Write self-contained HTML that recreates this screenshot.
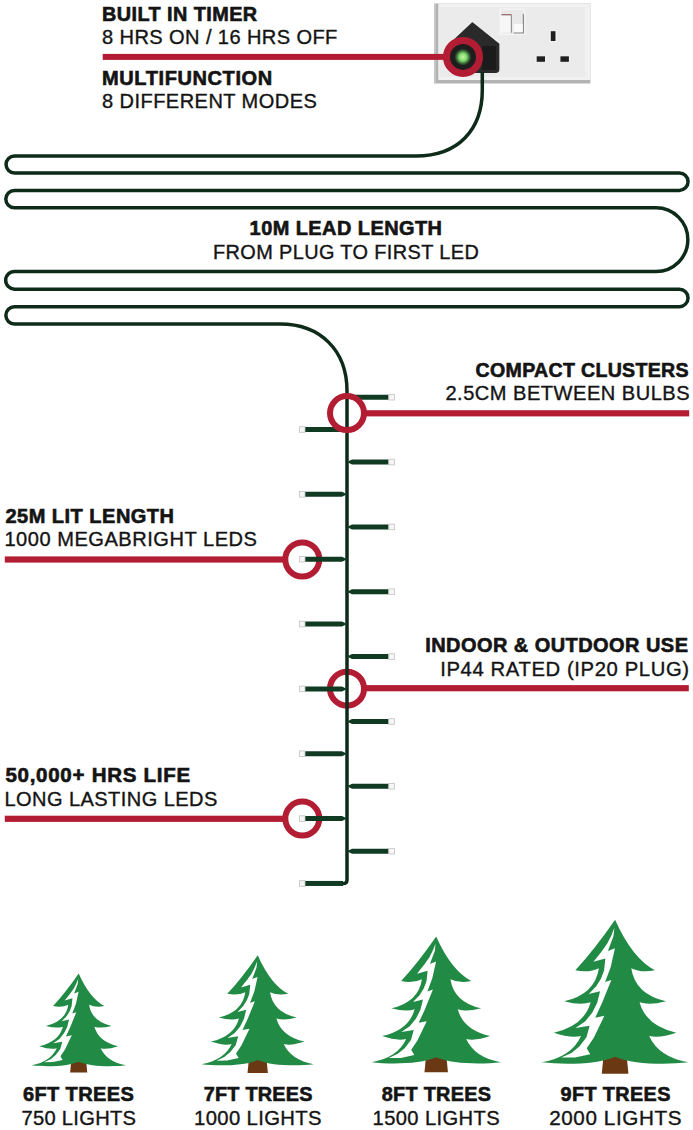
<!DOCTYPE html>
<html><head><meta charset="utf-8">
<style>
html,body{margin:0;padding:0;background:#fff;}
body{width:693px;height:1130px;overflow:hidden;}
svg{display:block;}
text{font-family:"Liberation Sans",sans-serif;fill:#141414;stroke:#141414;stroke-width:0.35px;}
.b{font-weight:bold;stroke-width:0.6px;}
#bulbs .t{fill:#f6f6f6;stroke:#c2c2c2;stroke-width:0.8;}
</style></head><body>
<svg width="693" height="1130" viewBox="0 0 693 1130">
<defs>
<g id="tree">
<path d="M-8 94 L8 94 L9.3 107.6 L-9.3 107.6 Z" fill="#6b3814"/>
<path fill="#218a44" d="M0 0 Q12 27 27.8 35.3 Q18 37.2 11.3 33.8 Q14 52 35.6 56.9 Q24 60 17.1 57.7 Q21.5 74 42.8 78.9 Q31 83 23.8 81.2 Q30.5 96 51.3 99.6 C35 101.5 12 101 0 95.7 C-12 101 -35 101.5 -51.3 99.6 Q-30.5 96 -23.8 81.2 Q-31 83 -42.8 78.9 Q-21.5 74 -17.1 57.7 Q-24 60 -35.6 56.9 Q-14 52 -11.3 33.8 Q-18 37.2 -27.8 35.3 Q-14.5 21 0 0 Z"/>
<path fill="#fff" d="M-0.5 5.6 L-2.7 11.1 L-5.5 16.6 L-9.4 22.1 L-12.6 26.1 L-15.2 29.4 L-6.8 27 L-7.7 35.5 L-9.8 41 L-13.2 46.5 L-18.4 51.9 L-10.5 49.9 L-12.5 58 L-16 65 L-21 71 L-27.7 75.6 L-17.8 74 L-20 82 L-25 88.5 L-30.5 93 L-37.6 96.3 L-28 96.2 L-17.4 93.9 L-19.8 89.8 L-14.9 82.4 L-7.5 67.1 L-13.9 68.4 L-9 57.8 L-2.6 42 L-7 43.5 L-3.1 33.1 L-0.1 19.8 L-5 21.8 L-1.1 11.4 Z"/>
</g>
</defs>

<!-- socket plate -->
<g>
<rect x="434" y="3.5" width="156.4" height="80" fill="#b3b3b3"/>
<rect x="438.3" y="3.5" width="152.1" height="76.5" fill="#f1f1f1"/>
<rect x="439.5" y="7" width="145.5" height="70" fill="#ebebeb"/>
<rect x="434" y="4" width="2" height="79" fill="#c4c4c4"/>
<rect x="500.3" y="9.2" width="24.6" height="25.2" fill="#e9e9e9" stroke="#f8f8f8" stroke-width="1"/><rect x="501" y="14.7" width="10.4" height="18.1" fill="#f6f6f6"/><path d="M501 14.7 H511.4 V32.8" fill="none" stroke="#8f8f8f" stroke-width="1.1"/>
<path d="M502 14.6 H511" stroke="#a46e78" stroke-width="1.2"/>
<path d="M513.7 32.9 H523.4 V14" fill="none" stroke="#8a8a8a" stroke-width="1.2"/>
<rect x="513.8" y="24" width="9" height="8.3" fill="#fafafa"/>
<rect x="550.2" y="30.7" width="5.8" height="10.9" fill="#1f1f1f" stroke="#fbfbfb" stroke-width="1"/>
<rect x="536.1" y="55.8" width="9.5" height="6.5" fill="#1f1f1f" stroke="#fbfbfb" stroke-width="1"/>
<rect x="559.9" y="55.8" width="9.5" height="6.5" fill="#1f1f1f" stroke="#fbfbfb" stroke-width="1"/>
<path d="M472.4 23.1 L498.6 44 L498.6 69.3 Q498.6 72.3 495.6 72.3 L452 72.3 L448 66 L448 46 Z" fill="#2a2a2a" stroke="#2a2a2a" stroke-width="1.5" stroke-linejoin="round"/>
<rect x="482" y="46" width="14" height="24" fill="#1b1b1b"/>
</g>
<!-- red lines -->
<g fill="#b31d33">
<rect x="102.7" y="53.9" width="345" height="6"/>
<rect x="364" y="410.2" width="325.2" height="6.2"/>
<rect x="4.8" y="556.4" width="281" height="6.2"/>
<rect x="364" y="685.1" width="324.8" height="6.2"/>
<rect x="4.8" y="815.7" width="281" height="6.2"/>
</g>

<g fill="none" stroke="#b31d33" stroke-width="6">
<circle cx="302.3" cy="559.5" r="17"/>
<circle cx="347" cy="688.7" r="17"/>
<circle cx="302.3" cy="818.6" r="17"/>
</g>
<!-- cable -->
<path fill="none" stroke="#0e2b1a" stroke-width="3.5" d="M482.3 72 L482.3 90 C482.3 130 458 156 416 156 L14.5 156 A8.45 8.45 0 0 0 14.5 172.9 L679.3 172.9 A8.75 8.75 0 0 1 679.3 190.4 L14.5 190.4 A8.7 8.7 0 0 0 14.5 207.8 L656 207.8 A31.85 31.85 0 0 1 656 271.5 L14.5 271.5 A8.85 8.85 0 0 0 14.5 289.2 L679.3 289.2 A8.75 8.75 0 0 1 679.3 306.7 L14.5 306.7 A8.65 8.65 0 0 0 14.5 324 L280 324 C320 324 347 350 347 391 L347 880 Q347 883.4 344 883.4 L320 883.4"/>

<!-- bulbs -->
<g id="bulbs" fill="#113a23">
<path d="M347 397.20 L352 394.70 L388.6 394.70 L388.6 399.70 L352 399.70 Z"/>
<rect class="t" x="388.8" y="394.40" width="5.6" height="5.6"/>
<path d="M347 429.50 L342 427.00 L305 427.00 L305 432.00 L342 432.00 Z"/>
<rect class="t" x="299.4" y="426.70" width="5.6" height="5.6"/>
<path d="M347 462.05 L352 459.55 L388.6 459.55 L388.6 464.55 L352 464.55 Z"/>
<rect class="t" x="388.8" y="459.25" width="5.6" height="5.6"/>
<path d="M347 494.35 L342 491.85 L305 491.85 L305 496.85 L342 496.85 Z"/>
<rect class="t" x="299.4" y="491.55" width="5.6" height="5.6"/>
<path d="M347 526.90 L352 524.40 L388.6 524.40 L388.6 529.40 L352 529.40 Z"/>
<rect class="t" x="388.8" y="524.10" width="5.6" height="5.6"/>
<path d="M347 559.20 L342 556.70 L305 556.70 L305 561.70 L342 561.70 Z"/>
<rect class="t" x="299.4" y="556.40" width="5.6" height="5.6"/>
<path d="M347 591.75 L352 589.25 L388.6 589.25 L388.6 594.25 L352 594.25 Z"/>
<rect class="t" x="388.8" y="588.95" width="5.6" height="5.6"/>
<path d="M347 624.05 L342 621.55 L305 621.55 L305 626.55 L342 626.55 Z"/>
<rect class="t" x="299.4" y="621.25" width="5.6" height="5.6"/>
<path d="M347 656.60 L352 654.10 L388.6 654.10 L388.6 659.10 L352 659.10 Z"/>
<rect class="t" x="388.8" y="653.80" width="5.6" height="5.6"/>
<path d="M347 688.90 L342 686.40 L305 686.40 L305 691.40 L342 691.40 Z"/>
<rect class="t" x="299.4" y="686.10" width="5.6" height="5.6"/>
<path d="M347 721.45 L352 718.95 L388.6 718.95 L388.6 723.95 L352 723.95 Z"/>
<rect class="t" x="388.8" y="718.65" width="5.6" height="5.6"/>
<path d="M347 753.75 L342 751.25 L305 751.25 L305 756.25 L342 756.25 Z"/>
<rect class="t" x="299.4" y="750.95" width="5.6" height="5.6"/>
<path d="M347 786.30 L352 783.80 L388.6 783.80 L388.6 788.80 L352 788.80 Z"/>
<rect class="t" x="388.8" y="783.50" width="5.6" height="5.6"/>
<path d="M347 818.60 L342 816.10 L305 816.10 L305 821.10 L342 821.10 Z"/>
<rect class="t" x="299.4" y="815.80" width="5.6" height="5.6"/>
<path d="M347 851.15 L352 848.65 L388.6 848.65 L388.6 853.65 L352 853.65 Z"/>
<rect class="t" x="388.8" y="848.35" width="5.6" height="5.6"/>
<rect x="305" y="880.95" width="38" height="5.0"/>
<rect class="t" x="299.4" y="880.65" width="5.6" height="5.6"/>
</g>

<!-- rings -->
<circle cx="347" cy="413.1" r="17" fill="none" stroke="#b31d33" stroke-width="6"/>
<defs><radialGradient id="glow" cx="0.5" cy="0.5" r="0.5"><stop offset="0" stop-color="#c5f5a0"/><stop offset="0.45" stop-color="#7fd86a"/><stop offset="0.75" stop-color="#3a6a3a"/><stop offset="1" stop-color="#1e1e1e"/></radialGradient></defs>
<circle cx="463" cy="56.9" r="16.5" fill="#1e1e1e" stroke="#b31d33" stroke-width="7"/>
<circle cx="462.9" cy="57.1" r="8.5" fill="url(#glow)"/>







<!-- trees -->
<use href="#tree" transform="translate(78.7 973.5) scale(0.921)"/>
<use href="#tree" transform="translate(257.7 955.2) scale(1.095)"/>
<use href="#tree" transform="translate(436.2 936.6) scale(1.261)"/>
<use href="#tree" transform="translate(615.1 919.8) scale(1.431)"/>

<g id="txt">
<text class="b" transform="scale(1.0287 1)" x="99.16" y="21.00" font-size="19.30" textLength="150.88" lengthAdjust="spacing">BUILT IN TIMER</text>
<text class="r" transform="scale(1.0396 1)" x="98.11" y="44.00" font-size="19.30" textLength="226.43" lengthAdjust="spacing">8 HRS ON / 16 HRS OFF</text>
<text class="b" transform="scale(1.0367 1)" x="98.39" y="85.00" font-size="19.30" textLength="164.18" lengthAdjust="spacing">MULTIFUNCTION</text>
<text class="r" transform="scale(1.0366 1)" x="98.40" y="108.00" font-size="19.30" textLength="207.22" lengthAdjust="spacing">8 DIFFERENT MODES</text>
<text class="b" transform="scale(1.0332 1)" x="241.58" y="235.00" font-size="19.30" textLength="186.22" lengthAdjust="spacing">10M LEAD LENGTH</text>
<text class="r" transform="scale(1.0314 1)" x="206.51" y="259.00" font-size="19.30" textLength="257.70" lengthAdjust="spacing">FROM PLUG TO FIRST LED</text>
<text class="b" transform="scale(1.0146 1)" x="468.73" y="377.00" font-size="19.30" textLength="209.93" lengthAdjust="spacing">COMPACT CLUSTERS</text>
<text class="r" transform="scale(1.0398 1)" x="428.36" y="400.00" font-size="19.30" textLength="234.86" lengthAdjust="spacing">2.5CM BETWEEN BULBS</text>
<text class="b" transform="scale(1.0363 1)" x="5.21" y="523.00" font-size="19.30" textLength="162.70" lengthAdjust="spacing">25M LIT LENGTH</text>
<text class="r" transform="scale(1.0397 1)" x="4.23" y="546.00" font-size="19.30" textLength="242.95" lengthAdjust="spacing">1000 MEGABRIGHT LEDS</text>
<text class="b" transform="scale(1.0359 1)" x="410.45" y="652.00" font-size="19.30" textLength="253.68" lengthAdjust="spacing">INDOOR &amp; OUTDOOR USE</text>
<text class="r" transform="scale(1.0495 1)" x="419.45" y="676.00" font-size="19.30" textLength="237.07" lengthAdjust="spacing">IP44 RATED (IP20 PLUG)</text>
<text class="b" transform="scale(1.0630 1)" x="5.08" y="782.00" font-size="19.30" textLength="173.85" lengthAdjust="spacing">50,000+ HRS LIFE</text>
<text class="r" transform="scale(1.0380 1)" x="4.24" y="806.00" font-size="19.30" textLength="205.20" lengthAdjust="spacing">LONG LASTING LEDS</text>
<text class="b" transform="scale(1.0216 1)" x="22.51" y="1101.00" font-size="19.60" textLength="108.46" lengthAdjust="spacing">6FT TREES</text>
<text class="r" transform="scale(1.0274 1)" x="20.83" y="1125.00" font-size="19.60" textLength="111.55" lengthAdjust="spacing">750 LIGHTS</text>
<text class="b" transform="scale(1.0131 1)" x="201.17" y="1101.00" font-size="19.60" textLength="107.20" lengthAdjust="spacing">7FT TREES</text>
<text class="r" transform="scale(1.0336 1)" x="187.69" y="1125.00" font-size="19.60" textLength="123.45" lengthAdjust="spacing">1000 LIGHTS</text>
<text class="b" transform="scale(1.0126 1)" x="377.05" y="1101.00" font-size="19.60" textLength="107.84" lengthAdjust="spacing">8FT TREES</text>
<text class="r" transform="scale(1.0278 1)" x="362.53" y="1125.00" font-size="19.60" textLength="123.57" lengthAdjust="spacing">1500 LIGHTS</text>
<text class="b" transform="scale(1.0121 1)" x="553.88" y="1101.00" font-size="19.60" textLength="108.48" lengthAdjust="spacing">9FT TREES</text>
<text class="r" transform="scale(1.0541 1)" x="521.03" y="1125.00" font-size="19.60" textLength="125.42" lengthAdjust="spacing">2000 LIGHTS</text>
</g>
</svg>
</body></html>
